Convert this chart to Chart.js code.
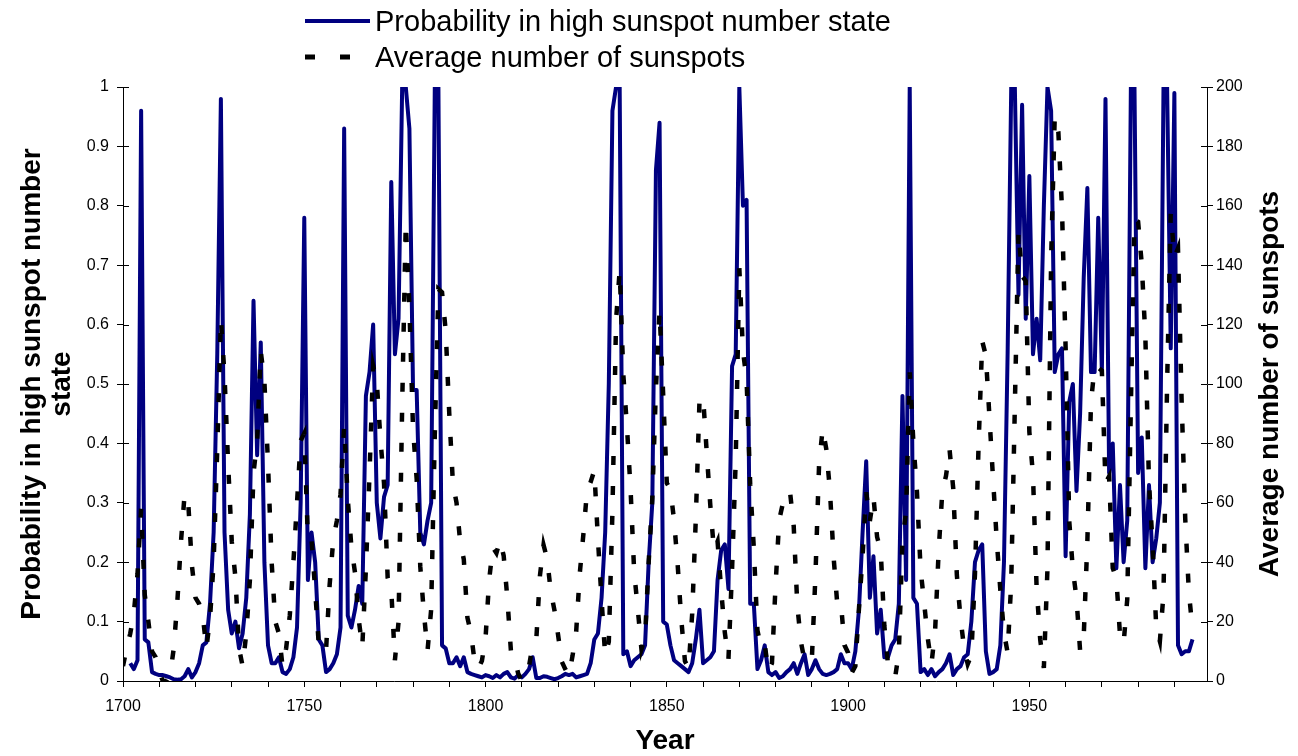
<!DOCTYPE html>
<html>
<head>
<meta charset="utf-8">
<script src="https://cdn.jsdelivr.net/npm/chart.js@4.4.1/dist/chart.umd.min.js"></script>
<style>
  body { margin: 0; background: #fff; }
  #wrap { position: relative; width: 1298px; height: 756px; }
  #legend { position: absolute; left: 0; top: 0; font-family: "Liberation Sans", Arial, sans-serif; font-size: 29px; color: #000; }
  .row { position: absolute; left: 302px; height: 36px; display: flex; align-items: center; white-space: nowrap; }
  .row svg { margin-right: 3px; }
</style>
</head>
<body>
<div id="wrap">
  <canvas id="sunChart" width="1298" height="756"></canvas>
  <div id="legend">
    <div class="row" style="top:3px">
      <svg width="70" height="10"><line x1="3" y1="5" x2="68" y2="5" stroke="#000080" stroke-width="4"/></svg>
      <span>Probability in high sunspot number state</span>
    </div>
    <div class="row" style="top:39px">
      <svg width="70" height="10"><line x1="3" y1="5" x2="68" y2="5" stroke="#000" stroke-width="5" stroke-dasharray="10 25"/></svg>
      <span>Average number of sunspots</span>
    </div>
  </div>
</div>
<script>
// yearly categories
const years = [
  1700, 1701, 1702, 1703, 1704, 1705, 1706, 1707, 1708, 1709,
  1710, 1711, 1712, 1713, 1714, 1715, 1716, 1717, 1718, 1719,
  1720, 1721, 1722, 1723, 1724, 1725, 1726, 1727, 1728, 1729,
  1730, 1731, 1732, 1733, 1734, 1735, 1736, 1737, 1738, 1739,
  1740, 1741, 1742, 1743, 1744, 1745, 1746, 1747, 1748, 1749,
  1750, 1751, 1752, 1753, 1754, 1755, 1756, 1757, 1758, 1759,
  1760, 1761, 1762, 1763, 1764, 1765, 1766, 1767, 1768, 1769,
  1770, 1771, 1772, 1773, 1774, 1775, 1776, 1777, 1778, 1779,
  1780, 1781, 1782, 1783, 1784, 1785, 1786, 1787, 1788, 1789,
  1790, 1791, 1792, 1793, 1794, 1795, 1796, 1797, 1798, 1799,
  1800, 1801, 1802, 1803, 1804, 1805, 1806, 1807, 1808, 1809,
  1810, 1811, 1812, 1813, 1814, 1815, 1816, 1817, 1818, 1819,
  1820, 1821, 1822, 1823, 1824, 1825, 1826, 1827, 1828, 1829,
  1830, 1831, 1832, 1833, 1834, 1835, 1836, 1837, 1838, 1839,
  1840, 1841, 1842, 1843, 1844, 1845, 1846, 1847, 1848, 1849,
  1850, 1851, 1852, 1853, 1854, 1855, 1856, 1857, 1858, 1859,
  1860, 1861, 1862, 1863, 1864, 1865, 1866, 1867, 1868, 1869,
  1870, 1871, 1872, 1873, 1874, 1875, 1876, 1877, 1878, 1879,
  1880, 1881, 1882, 1883, 1884, 1885, 1886, 1887, 1888, 1889,
  1890, 1891, 1892, 1893, 1894, 1895, 1896, 1897, 1898, 1899,
  1900, 1901, 1902, 1903, 1904, 1905, 1906, 1907, 1908, 1909,
  1910, 1911, 1912, 1913, 1914, 1915, 1916, 1917, 1918, 1919,
  1920, 1921, 1922, 1923, 1924, 1925, 1926, 1927, 1928, 1929,
  1930, 1931, 1932, 1933, 1934, 1935, 1936, 1937, 1938, 1939,
  1940, 1941, 1942, 1943, 1944, 1945, 1946, 1947, 1948, 1949,
  1950, 1951, 1952, 1953, 1954, 1955, 1956, 1957, 1958, 1959,
  1960, 1961, 1962, 1963, 1964, 1965, 1966, 1967, 1968, 1969,
  1970, 1971, 1972, 1973, 1974, 1975, 1976, 1977, 1978, 1979,
  1980, 1981, 1982, 1983, 1984, 1985, 1986, 1987, 1988, 1989,
  1990, 1991, 1992, 1993, 1994, 1995
];

// probability of the high sunspot state (left axis)
const probability = [
  null, null, 0.03, 0.02, 0.035, 0.96, 0.07, 0.065, 0.015, 0.012,
  0.01, 0.01, 0.008, 0.006, 0.003, 0.002, 0.003, 0.008, 0.02, 0.006,
  0.015, 0.03, 0.06, 0.065, 0.13, 0.25, 0.55, 0.98, 0.25, 0.12,
  0.08, 0.1, 0.055, 0.08, 0.14, 0.28, 0.64, 0.38, 0.57, 0.2,
  0.06, 0.03, 0.03, 0.04, 0.015, 0.012, 0.02, 0.04, 0.09, 0.3,
  0.78, 0.17, 0.25, 0.2, 0.07, 0.06, 0.015, 0.02, 0.03, 0.045,
  0.09, 0.93, 0.11, 0.09, 0.12, 0.16, 0.13, 0.48, 0.52, 0.6,
  0.3, 0.24, 0.31, 0.33, 0.84, 0.55, 0.61, 1.0, 1.0, 0.93,
  0.49, 0.49, 0.25, 0.23, 0.27, 0.3, 1.0, 1.0, 0.06, 0.055,
  0.03, 0.03, 0.04, 0.025, 0.04, 0.015, 0.012, 0.01, 0.008, 0.006,
  0.01, 0.008, 0.005, 0.01, 0.006, 0.012, 0.015, 0.006, 0.004, 0.01,
  0.006, 0.012, 0.02, 0.04, 0.005, 0.005, 0.008, 0.007, 0.005, 0.003,
  0.005, 0.008, 0.012, 0.01, 0.012, 0.006, 0.008, 0.01, 0.012, 0.03,
  0.07, 0.08, 0.14, 0.25, 0.5, 0.96, 1.0, 1.0, 0.045, 0.05,
  0.025, 0.035, 0.04, 0.045, 0.06, 0.2, 0.3, 0.86, 0.94, 0.1,
  0.095, 0.06, 0.035, 0.03, 0.025, 0.02, 0.015, 0.03, 0.07, 0.12,
  0.03, 0.035, 0.04, 0.05, 0.17, 0.22, 0.23, 0.155, 0.53, 0.55,
  1.0, 0.8, 0.81, 0.13, 0.13, 0.02, 0.035, 0.06, 0.015, 0.01,
  0.015, 0.005, 0.008, 0.015, 0.02, 0.03, 0.012, 0.03, 0.045, 0.01,
  0.02, 0.035, 0.02, 0.012, 0.01, 0.012, 0.015, 0.02, 0.045, 0.03,
  0.03, 0.02, 0.05, 0.12, 0.25, 0.37, 0.14, 0.21, 0.08, 0.12,
  0.04, 0.04, 0.06, 0.07, 0.13, 0.48, 0.17, 1.0, 0.14, 0.13,
  0.015, 0.02, 0.01, 0.02, 0.008, 0.015, 0.02, 0.03, 0.045, 0.01,
  0.02, 0.025, 0.04, 0.045, 0.1, 0.2, 0.22, 0.23, 0.05, 0.012,
  0.015, 0.02, 0.06, 0.2, 0.55, 1.0, 1.0, 0.65, 0.97, 0.61,
  0.85, 0.55, 0.61, 0.54, 0.8, 1.0, 0.96, 0.52, 0.55, 0.56,
  0.21, 0.47, 0.5, 0.32, 0.45, 0.68, 0.83, 0.52, 0.52, 0.78,
  0.52, 0.98, 0.35, 0.4, 0.19, 0.33, 0.2, 0.27, 1.0, 1.0,
  0.35, 0.41, 0.19, 0.33, 0.2, 0.24, 0.3, 1.0, 1.0, 0.56,
  0.99, 0.06, 0.045, 0.05, 0.05, 0.07
];

// yearly average sunspot number (right axis)
const sunspots = [
  5, 11, 16, 23, 36, 58, 29, 20, 10, 8,
  3, 0, 0, 2, 11, 27, 47, 63, 60, 39,
  28, 26, 22, 11, 21, 40, 78, 122, 103, 73,
  47, 35, 11, 5, 16, 34, 70, 81, 111, 101,
  73, 40, 20, 16, 5, 11, 22, 40, 60, 80.9,
  83.4, 47.7, 47.8, 30.7, 12.2, 9.6, 10.2, 32.4, 47.6, 54,
  62.9, 85.9, 61.2, 45.1, 36.4, 20.9, 11.4, 37.8, 69.8, 106.1,
  100.8, 81.6, 66.5, 34.8, 30.6, 7, 19.8, 92.5, 154.4, 125.9,
  84.8, 68.1, 38.5, 22.8, 10.2, 24.1, 82.9, 132, 130.9, 118.1,
  89.9, 66.6, 60, 46.9, 41, 21.3, 16, 6.4, 4.1, 6.8,
  14.5, 34, 45, 43.1, 47.5, 42.2, 28.1, 10.1, 8.1, 2.5,
  0, 1.4, 5, 12.2, 13.9, 35.4, 45.8, 41.1, 30.1, 23.9,
  15.6, 6.6, 4, 1.8, 8.5, 16.6, 36.3, 49.6, 64.2, 67,
  70.9, 47.8, 27.5, 8.5, 13.2, 56.9, 121.5, 138.3, 103.2, 85.7,
  64.6, 36.7, 24.2, 10.7, 15, 40.1, 61.5, 98.5, 124.7, 96.3,
  66.6, 64.5, 54.1, 39, 20.6, 6.7, 4.3, 22.7, 54.8, 93.8,
  95.8, 77.2, 59.1, 44, 47, 30.5, 16.3, 7.3, 37.6, 74,
  139, 111.2, 101.6, 66.2, 44.7, 17, 11.3, 12.4, 3.4, 6,
  32.3, 54.3, 59.7, 63.7, 63.5, 52.2, 25.4, 13.1, 6.8, 6.3,
  7.1, 35.6, 73, 85.1, 78, 64, 41.8, 26.2, 26.7, 12.1,
  9.5, 2.7, 5, 24.4, 42, 63.5, 53.8, 62, 48.5, 43.9,
  18.6, 5.7, 3.6, 1.4, 9.6, 47.4, 57.1, 103.9, 80.6, 63.6,
  37.6, 26.1, 14.2, 5.8, 16.7, 44.3, 63.9, 69, 77.8, 64.9,
  35.7, 21.2, 11.1, 5.7, 8.7, 36.1, 79.7, 114.4, 109.6, 88.8,
  67.8, 47.5, 30.6, 16.3, 9.6, 33.2, 92.6, 151.6, 136.3, 134.7,
  83.9, 69.4, 31.5, 13.9, 4.4, 38, 141.7, 190.2, 184.8, 159,
  112.3, 53.9, 37.5, 27.9, 10.2, 15.1, 47, 93.8, 105.9, 105.5,
  104.5, 66.6, 68.9, 38, 34.5, 15.5, 12.6, 27.5, 92.5, 155.4,
  154.6, 140.4, 115.9, 66.6, 45.9, 17.9, 13.4, 29.4, 100.2, 157.6,
  142.6, 145.7, 94.3, 54.6, 29.9, 17.5
];

// x axis: tick marks every 10 years, labels every 50
const xTickYears = [1700, 1710, 1720, 1730, 1740, 1750, 1760, 1770, 1780, 1790,
  1800, 1810, 1820, 1830, 1840, 1850, 1860, 1870, 1880, 1890,
  1900, 1910, 1920, 1930, 1940, 1950, 1960, 1970, 1980, 1990];
const xLabelYears = [1700, 1750, 1800, 1850, 1900, 1950];

const FONT = '"Liberation Sans", Arial, sans-serif';
const tickFont = { family: FONT, size: 16 };
const titleFont = { family: FONT, size: 28, weight: 'bold', lineHeight: 1.08 };

// inner half of the crossing tick marks + right axis title (reads bottom to top)
const axisExtras = {
  id: 'axisExtras',
  afterDraw(chart) {
    const ctx = chart.ctx;
    const area = chart.chartArea;
    ctx.save();
    ctx.strokeStyle = '#000';
    ctx.lineWidth = 1;
    ctx.beginPath();
    chart.scales.y.ticks.forEach(t => {
      const py = Math.round(chart.scales.y.getPixelForValue(t.value)) + 0.5;
      ctx.moveTo(area.left, py);
      ctx.lineTo(area.left + 6, py);
    });
    chart.scales.y1.ticks.forEach(t => {
      const py = Math.round(chart.scales.y1.getPixelForValue(t.value)) + 0.5;
      ctx.moveTo(area.right - 6, py);
      ctx.lineTo(area.right, py);
    });
    ctx.stroke();

    ctx.font = 'bold 28px ' + FONT;
    ctx.fillStyle = '#000';
    ctx.textAlign = 'center';
    ctx.textBaseline = 'middle';
    ctx.translate(1270, (area.top + area.bottom) / 2);
    ctx.rotate(-Math.PI / 2);
    ctx.fillText('Average number of sunspots', 0, 0);
    ctx.restore();
  }
};

const ctx = document.getElementById('sunChart').getContext('2d');
const sunChart = new Chart(ctx, {
  type: 'line',
  data: {
    labels: years,
    datasets: [
      {
        label: 'Probability in high sunspot number state',
        data: probability,
        yAxisID: 'y',
        borderColor: '#000080',
        borderWidth: 4,
        borderJoinStyle: 'round',
        pointRadius: 0,
        fill: false,
        clip: 0,
        order: 2,
      },
      {
        label: 'Average number of sunspots',
        data: sunspots,
        yAxisID: 'y1',
        borderColor: '#000',
        borderWidth: 4.5,
        borderDash: [9, 21],
        pointRadius: 0,
        fill: false,
        order: 1,
      },
    ],
  },
  options: {
    responsive: false,
    animation: false,
    layout: { padding: { top: 87, left: 0, right: 0, bottom: 0 } },
    plugins: {
      legend: { display: false },
      tooltip: { enabled: false },
    },
    elements: { line: { tension: 0 } },
    scales: {
      x: {
        type: 'linear',
        min: 1700,
        max: 1999,
        afterBuildTicks: (scale) => { scale.ticks = xTickYears.map(v => ({ value: v })); },
        afterFit: (scale) => { scale.height = 75; },
        ticks: {
          autoSkip: false,
          maxRotation: 0,
          padding: 10,
          color: '#000',
          font: tickFont,
          callback: (v) => (xLabelYears.includes(v) ? String(v) : ''),
        },
        grid: { drawOnChartArea: false, tickLength: 6, color: '#000' },
        border: { color: '#000', width: 1 },
        title: { display: true, text: 'Year', color: '#000', font: titleFont, padding: { top: 0, bottom: 0 } },
      },
      y: {
        position: 'left',
        min: 0,
        max: 1,
        afterFit: (scale) => { scale.width = 123; },
        ticks: {
          stepSize: 0.1,
          padding: 8,
          color: '#000',
          font: tickFont,
          callback: (v) => String(Math.round(v * 10) / 10),
        },
        grid: { drawOnChartArea: false, tickLength: 6, color: '#000' },
        border: { color: '#000', width: 1 },
        title: {
          display: true,
          text: ['Probability in high sunspot number', 'state'],
          color: '#000',
          font: titleFont,
          padding: { top: 17, bottom: 0 },
        },
      },
      y1: {
        position: 'right',
        min: 0,
        max: 200,
        afterFit: (scale) => { scale.width = 91; },
        ticks: { stepSize: 20, padding: 3, color: '#000', font: tickFont },
        grid: { drawOnChartArea: false, tickLength: 6, color: '#000' },
        border: { color: '#000', width: 1 },
      },
    },
  },
  plugins: [axisExtras],
});
</script>
</body>
</html>
